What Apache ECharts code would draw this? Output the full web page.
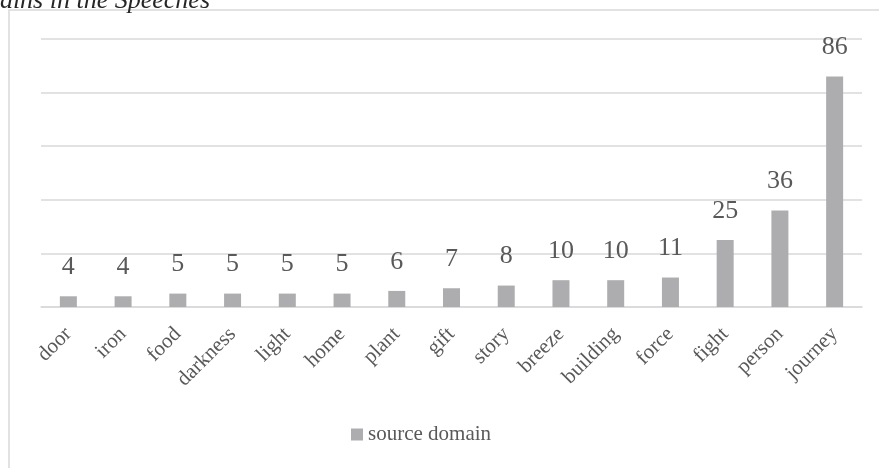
<!DOCTYPE html>
<html>
<head>
<meta charset="utf-8">
<script src="https://cdn.jsdelivr.net/npm/echarts@6/dist/echarts.min.js"></script>
<style>html,body{margin:0;padding:0;background:#fff;}#c{width:879px;height:468px;}</style>
</head>
<body>
<div id="c"></div>
<script>
var categories = ['door','iron','food','darkness','light','home','plant','gift','story','breeze','building','force','fight','person','journey'];
var sourceDomain = [4,4,5,5,5,5,6,7,8,10,10,11,25,36,86];
var seriesName = 'source domain';
var titleText = 'Domains in the Speeches';

var chart = echarts.init(document.getElementById('c'), null, {renderer:'canvas'});
var serif = '"Liberation Serif", "DejaVu Serif", serif';
chart.setOption({
  animation: false,
  backgroundColor: '#fff',
  graphic: [
    {type:'rect', shape:{x:9,y:10,width:900,height:500}, style:{fill:'none', stroke:'#d9d9d9', lineWidth:1.5}, silent:true, z:-1},
    {type:'text', x: 210, y: 1, style:{text:titleText, font:'italic 26px ' + serif, fill:'#262626', textAlign:'right', textVerticalAlign:'middle'}}
  ],
  grid: {left: 41, right: 17, top: 39, bottom: 161},
  legend: {
    bottom: 18, left: 346,
    data: [seriesName],
    icon: 'rect', itemWidth: 12, itemHeight: 12, itemGap: 5,
    textStyle: {fontFamily: serif, fontSize: 21, color: '#595959'}
  },
  xAxis: {
    type: 'category', data: categories,
    axisLine: {lineStyle:{color:'#d9d9d9', width:1.5}},
    axisTick: {show:false},
    axisLabel: {rotate: 45, margin: 24, interval: 0, fontFamily: serif, fontSize: 21, color: '#595959'}
  },
  yAxis: {
    type: 'value', min: 0, max: 100, interval: 20,
    axisLabel: {show:false}, axisLine:{show:false}, axisTick:{show:false},
    splitLine: {lineStyle:{color:'#d9d9d9', width:1.5}}
  },
  series: [{
    name: seriesName, type: 'bar', data: sourceDomain, barWidth: 17,
    itemStyle: {color: '#adadb0'},
    label: {show: true, position: 'top', distance: 16, fontFamily: serif, fontSize: 26, color: '#595959'}
  }]
});
</script>
</body>
</html>
